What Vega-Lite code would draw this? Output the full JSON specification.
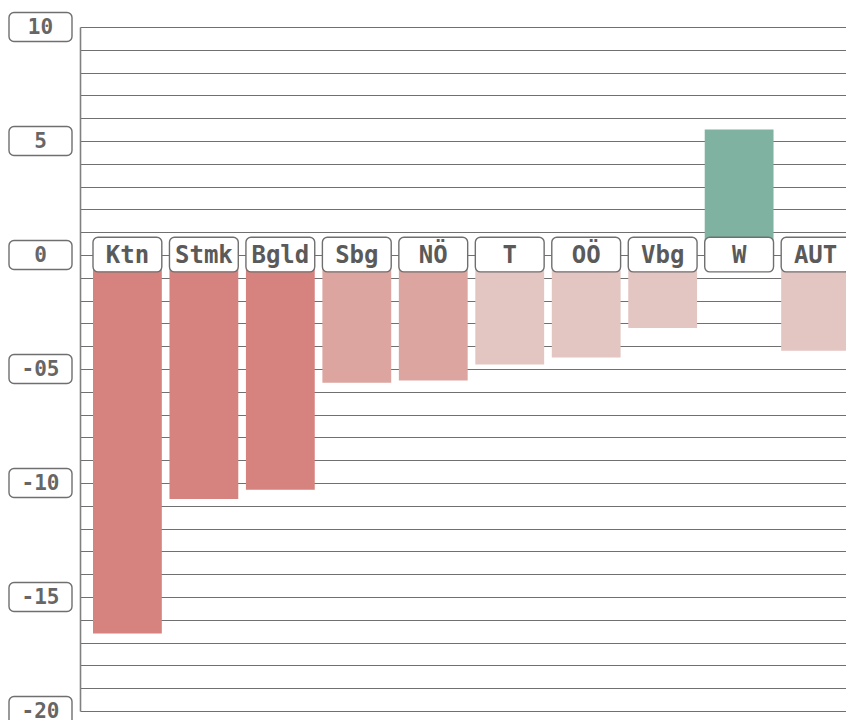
{
  "$schema": "https://vega.github.io/schema/vega-lite/v6.json",
  "background": "white",
  "padding": {"left": 8, "top": 11, "right": 0, "bottom": 0},
  "bounds": "flush",
  "spacing": 8,
  "config": {"view": {"stroke": null}},
  "hconcat": [
    {
      "width": 63,
      "height": 684,
      "data": {"values": [
        {"tick": 10, "label": "10"},
        {"tick": 5, "label": "5"},
        {"tick": 0, "label": "0"},
        {"tick": -5, "label": "-05"},
        {"tick": -10, "label": "-10"},
        {"tick": -15, "label": "-15"},
        {"tick": -20, "label": "-20"}
      ]},
      "layer": [
        {
          "mark": {"type": "bar", "orient": "horizontal", "height": 29, "cornerRadius": 5, "fill": "white", "stroke": "#6f6f6f", "strokeWidth": 1.4},
          "encoding": {
            "y": {"field": "tick", "type": "quantitative", "scale": {"domain": [-20, 10], "nice": false, "zero": false, "padding": 0}, "axis": null},
            "x": {"datum": 0, "type": "quantitative", "scale": {"domain": [0, 1], "nice": false, "padding": 0}, "axis": null},
            "x2": {"datum": 1}
          }
        },
        {
          "mark": {"type": "text", "font": "DejaVu Sans Mono", "fontSize": 21, "fontWeight": "bold", "color": "#666666", "baseline": "middle", "align": "center", "dy": 1},
          "encoding": {
            "y": {"field": "tick", "type": "quantitative"},
            "x": {"datum": 0.5, "type": "quantitative"},
            "text": {"field": "label"}
          }
        }
      ]
    },
    {
      "width": 766,
      "height": 684,
      "data": {"values": [
        {"region": "Ktn", "wert": -16.6},
        {"region": "Stmk", "wert": -10.7},
        {"region": "Bgld", "wert": -10.3},
        {"region": "Sbg", "wert": -5.6},
        {"region": "NÖ", "wert": -5.5},
        {"region": "T", "wert": -4.8},
        {"region": "OÖ", "wert": -4.5},
        {"region": "Vbg", "wert": -3.2},
        {"region": "W", "wert": 5.5},
        {"region": "AUT", "wert": -4.2}
      ]},
      "encoding": {
        "x": {"field": "region", "type": "nominal", "sort": null, "axis": null,
              "scale": {"paddingInner": 0.1, "paddingOuter": 0.17, "range": [0, 783]}}
      },
      "layer": [
        {
          "mark": {"type": "bar", "clip": true},
          "encoding": {
            "y": {"field": "wert", "type": "quantitative",
                  "scale": {"domain": [-20, 10], "nice": false, "zero": false},
                  "axis": {"title": null, "labels": false, "ticks": false, "grid": true,
                           "tickCount": 60,
                           "values": [-20,-19,-18,-17,-16,-15,-14,-13,-12,-11,-10,-9,-8,-7,-6,-5,-4,-3,-2,-1,0,1,2,3,4,5,6,7,8,9,10],
                           "gridColor": "#707070", "gridWidth": 1.2, "gridOpacity": 1,
                           "domain": true, "domainColor": "#808080", "domainWidth": 1.6}},
            "y2": {"datum": 0},
            "color": {"field": "wert", "type": "quantitative", "legend": null,
                      "scale": {"type": "threshold", "domain": [-10, -5, 0],
                                "range": ["#d6827e", "#dca5a0", "#e3c5c2", "#80b2a2"]}}
          }
        },
        {
          "mark": {"type": "rect", "clip": true, "fill": "white", "stroke": "#6f6f6f", "strokeWidth": 1.4, "cornerRadius": 5},
          "encoding": {
            "y": {"datum": 0.78},
            "y2": {"datum": -0.74}
          }
        },
        {
          "mark": {"type": "text", "clip": true, "font": "DejaVu Sans Mono", "fontSize": 24, "fontWeight": "bold", "color": "#5a5a5a", "baseline": "middle", "align": "center", "dy": 1},
          "encoding": {
            "y": {"datum": 0},
            "text": {"field": "region"}
          }
        }
      ]
    }
  ]
}
